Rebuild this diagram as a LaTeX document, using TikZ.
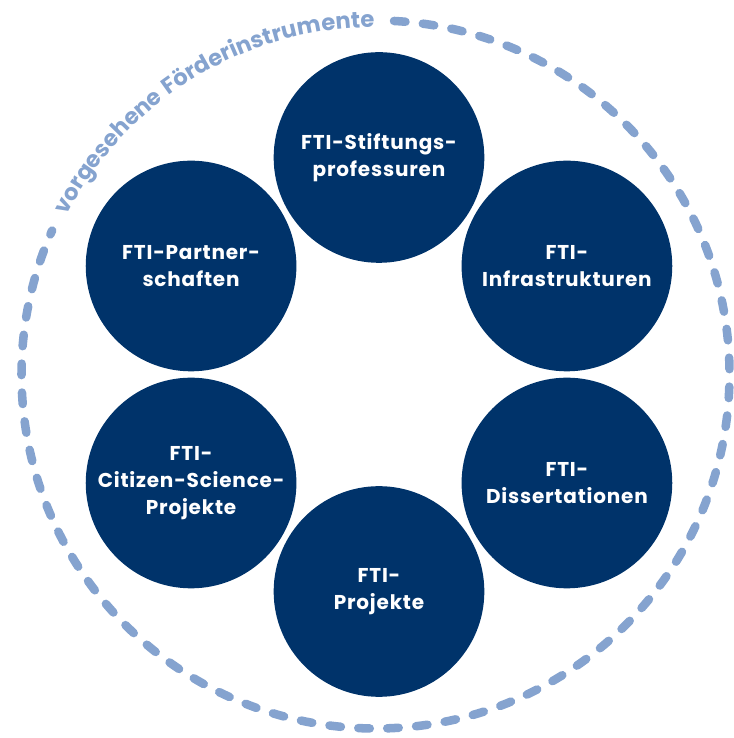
\documentclass[tikz,border=0pt]{standalone}
\usepackage{fontspec}
\usetikzlibrary{decorations.text}
\newfontfamily\ftifont{Poppins}[LetterSpace=4]
\definecolor{ftiblue}{HTML}{00336A}
\definecolor{ringblue}{HTML}{85A3CF}

\begin{document}
\begin{tikzpicture}[x=0.75pt, y=0.75pt,
    fti/.style={circle, fill=ftiblue, text=white, minimum size=158pt, inner sep=0pt, align=center,
      font=\ftifont\bfseries\fontsize{15}{20}\selectfont}]
    \useasboundingbox (0,0) rectangle (734,738);
    \coordinate (mid) at (379,363.5);
    \coordinate (ring) at (375.5,363.5);
    \draw [ringblue, line width=6.4pt, line cap=round, dash pattern=on 8.6pt off 13.1pt]
      (ring) ++(87:354) arc[start angle=87, end angle=-204, radius=354];
    \path [decorate, decoration={text along path, text align=center,
      text={|\ftifont\bfseries\fontsize{17}{20}\selectfont\color{ringblue}|vorgesehene Förderinstrumente}}]
      (ring) ++(160:347) arc[start angle=160, end angle=83, radius=347];
    \path (mid) ++(90:217) node[fti](stift){FTI-Stiftungs-\\professuren};
    \path (mid) ++(30:217) node[fti](infra){FTI-\\Infrastrukturen};
    \path (mid) ++(-30:217) node[fti](diss){FTI-\\Dissertationen};
    \path (mid) ++(-90:217) node[fti](proj){FTI-\\Projekte};
    \path (mid) ++(210:217) node[fti](citizen){FTI-\\Citizen-Science-\\Projekte};
    \path (mid) ++(150:217) node[fti](partner){FTI-Partner-\\schaften};
  \end{tikzpicture}
\end{document}
